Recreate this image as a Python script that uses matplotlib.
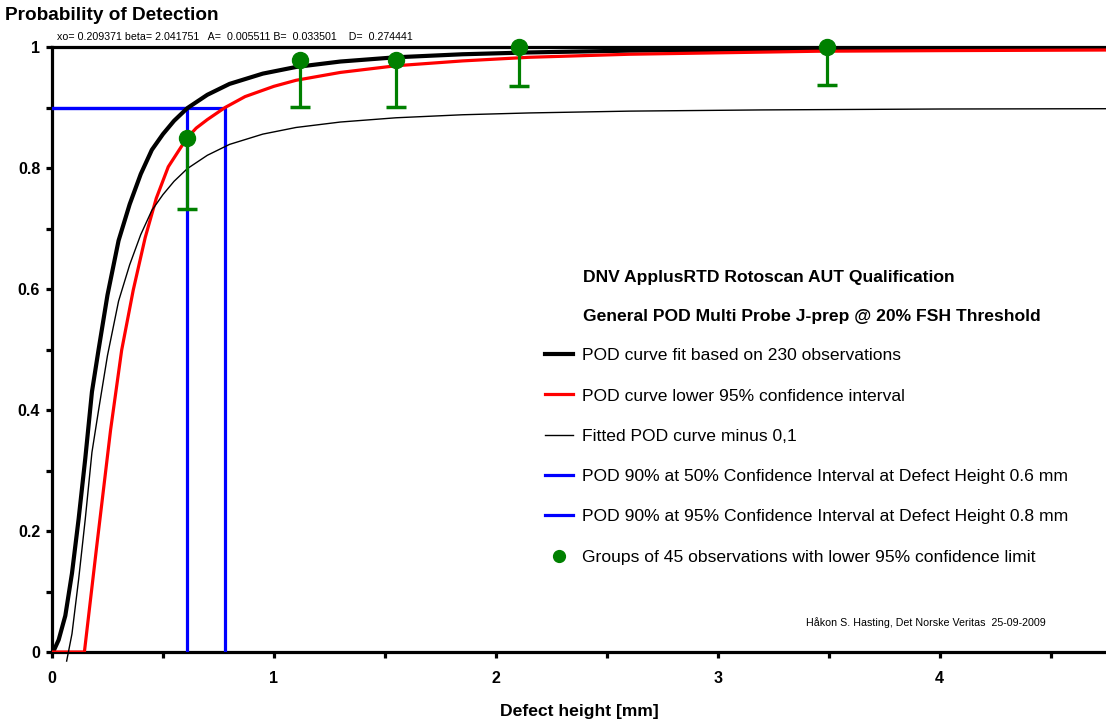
import matplotlib

matplotlib.use("Agg")
import matplotlib.pyplot as plt
from matplotlib.lines import Line2D
from matplotlib.ticker import MultipleLocator, FixedLocator

plt.rcParams["font.family"] = ["Liberation Sans", "DejaVu Sans"]

# POD curve fit (black, thick)
fit_x = [0.005, 0.03, 0.06, 0.09, 0.12, 0.15, 0.18, 0.21, 0.25, 0.30, 0.35, 0.40, 0.45, 0.50,
         0.55, 0.61, 0.70, 0.80, 0.95, 1.10, 1.30, 1.55, 1.85, 2.15, 2.60, 3.20, 4.00, 4.75]
fit_y = [0.0, 0.02, 0.06, 0.13, 0.22, 0.32, 0.43, 0.50, 0.59, 0.68, 0.74, 0.79, 0.83, 0.856,
         0.878, 0.899, 0.921, 0.939, 0.956, 0.967, 0.976, 0.983, 0.988, 0.991, 0.994, 0.996, 0.9975, 0.998]

# lower 95% confidence curve (red)
low_x = [0.0, 0.146, 0.20, 0.264, 0.314, 0.366, 0.42, 0.47, 0.524, 0.607, 0.65, 0.70, 0.78,
         0.87, 1.00, 1.10, 1.30, 1.55, 1.85, 2.15, 2.60, 3.45, 4.00, 4.75]
low_y = [0.0, 0.0, 0.17, 0.367, 0.499, 0.598, 0.685, 0.75, 0.802, 0.849, 0.866, 0.880, 0.900,
         0.918, 0.935, 0.945, 0.958, 0.969, 0.977, 0.983, 0.988, 0.993, 0.994, 0.995]

# fitted curve minus 0,1 (thin black)
minus_x = [0.066, 0.09, 0.12, 0.15, 0.18, 0.21, 0.25, 0.30, 0.35, 0.40, 0.45, 0.50, 0.55, 0.61,
           0.70, 0.80, 0.95, 1.10, 1.30, 1.55, 1.85, 2.15, 2.60, 3.20, 4.00, 4.75]
minus_y = [-0.015, 0.03, 0.12, 0.22, 0.33, 0.40, 0.49, 0.58, 0.64, 0.69, 0.73, 0.756, 0.778, 0.799,
           0.821, 0.839, 0.856, 0.867, 0.876, 0.883, 0.888, 0.891, 0.894, 0.896, 0.8975, 0.898]

# POD 90% markers (blue)
pod90_50_x = [0.0, 0.61, 0.61]
pod90_50_y = [0.9, 0.9, 0.0]
pod90_95_x = [0.0, 0.78, 0.78]
pod90_95_y = [0.9, 0.9, 0.0]

# groups of 45 observations with lower 95% limit
grp_x = [0.61, 1.117, 1.55, 2.105, 3.494]
grp_y = [0.849, 0.978, 0.978, 1.0, 1.0]
grp_low = [0.733, 0.901, 0.901, 0.936, 0.938]

legend_labels = [
    "POD curve fit based on 230 observations",
    "POD curve lower 95% confidence interval",
    "Fitted POD curve minus 0,1",
    "POD 90% at 50% Confidence Interval at Defect Height 0.6 mm",
    "POD 90% at 95% Confidence Interval at Defect Height 0.8 mm",
    "Groups of 45 observations with lower 95% confidence limit",
]

FS = 12.6
GREEN = "#008000"

fig = plt.figure(figsize=(11.06, 7.21), dpi=100)
ax = fig.add_axes([52 / 1106, 69 / 721, 1 - 52 / 1106, 605 / 721])

h_fit, = ax.plot(fit_x, fit_y, color="black", lw=3.0, zorder=4)
h_low, = ax.plot(low_x, low_y, color="#ff0000", lw=2.3, zorder=4)
h_minus, = ax.plot(minus_x, minus_y, color="black", lw=1.0, zorder=4, clip_on=False)
h_b1, = ax.plot(pod90_50_x, pod90_50_y, color="#0000ff", lw=2.3, zorder=3)
h_b2, = ax.plot(pod90_95_x, pod90_95_y, color="#0000ff", lw=2.3, zorder=3)

# lower confidence whiskers with a cap at the bottom only
ax.vlines(grp_x, grp_low, grp_y, color=GREEN, lw=2.3, zorder=5)
ax.plot(grp_x, grp_low, ls="none", marker="_", ms=15, mew=2.5, color=GREEN, zorder=5)
ax.plot(grp_x, grp_y, ls="none", marker="o", ms=11.5, color=GREEN, zorder=6, clip_on=False)
h_grp = Line2D([], [], color=GREEN, marker="o", ls="none", ms=8.5)

ax.set_xlim(0, 4.75)
ax.set_ylim(0, 1)
ax.spines["right"].set_visible(False)
for s in ("left", "bottom", "top"):
    ax.spines[s].set_linewidth(2.3)

ax.xaxis.set_major_locator(MultipleLocator(1))
ax.xaxis.set_minor_locator(MultipleLocator(0.5))
ax.yaxis.set_major_locator(FixedLocator([0, 0.2, 0.4, 0.6, 0.8, 1.0]))
ax.yaxis.set_minor_locator(MultipleLocator(0.1))
ax.set_yticklabels(["0", "0.2", "0.4", "0.6", "0.8", "1"])
ax.tick_params(which="both", direction="out", length=4.5, width=2.3)
ax.tick_params(axis="x", which="major", pad=9, labelsize=11.5)
ax.tick_params(axis="y", which="major", pad=4, labelsize=11.5)
for lbl in ax.get_xticklabels() + ax.get_yticklabels():
    lbl.set_fontweight("bold")

ax.set_xlabel("Defect height [mm]", fontsize=FS, fontweight="bold", labelpad=12.8)

fig.text(5 / 1106, 1 - 15 / 721, "Probability of Detection", fontsize=13.7, fontweight="bold",
         ha="left", va="center")
fig.text(57 / 1106, 1 - 37 / 721,
         "xo= 0.209371 beta= 2.041751   A=  0.005511 B=  0.033501    D=  0.274441",
         fontsize=7.65, ha="left", va="center")
fig.text(583 / 1106, 1 - 277 / 721, "DNV ApplusRTD Rotoscan AUT Qualification",
         fontsize=FS, fontweight="bold", ha="left", va="center")
fig.text(583 / 1106, 1 - 317 / 721, "General POD Multi Probe J-prep @ 20% FSH Threshold",
         fontsize=FS, fontweight="bold", ha="left", va="center")
fig.text(806 / 1106, 1 - 623 / 721, "Håkon S. Hasting, Det Norske Veritas  25-09-2009",
         fontsize=7.7, ha="left", va="center")

ax.legend([h_fit, h_low, h_minus, h_b1, h_b2, h_grp], legend_labels,
          loc="upper left", bbox_to_anchor=(545 / 1106, 1 - 348 / 721),
          bbox_transform=fig.transFigure, frameon=False, fontsize=FS,
          handlelength=1.6, handletextpad=0.52, labelspacing=1.43, borderpad=0, borderaxespad=0)

fig.savefig("out.png", dpi=100)
